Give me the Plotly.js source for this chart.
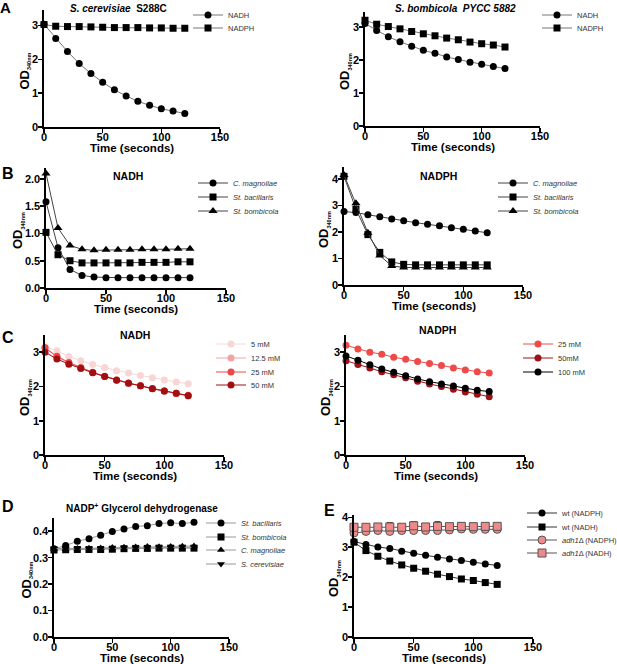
<!DOCTYPE html>
<html>
<head>
<meta charset="utf-8">
<script src="https://cdn.plot.ly/plotly-3.0.1.min.js"></script>
<style>
  html, body { margin: 0; padding: 0; background: #fff; }
  #fig { width: 617px; height: 664px; }
</style>
</head>
<body>
<div id="fig"></div>
<script>
const W = 617, H = 664;

// time points (s)
const time = [0, 10, 20, 30, 40, 50, 60, 70, 80, 90, 100, 110, 120];

// A - S. cerevisiae S288C
const aScNadh  = [3.04, 2.62, 2.23, 1.88, 1.58, 1.32, 1.10, 0.92, 0.76, 0.64, 0.54, 0.47, 0.40];
const aScNadph = [3.03, 2.98, 2.97, 2.97, 2.96, 2.95, 2.94, 2.94, 2.94, 2.93, 2.93, 2.92, 2.92];
// A - S. bombicola PYCC 5882
const aSbNadh  = [3.10, 2.89, 2.70, 2.55, 2.41, 2.29, 2.20, 2.09, 2.01, 1.93, 1.87, 1.80, 1.74];
const aSbNadph = [3.20, 3.08, 3.01, 2.94, 2.86, 2.79, 2.73, 2.66, 2.61, 2.54, 2.49, 2.45, 2.39];

// B - NADH
const bNadhMag = [1.58, 0.74, 0.34, 0.23, 0.20, 0.19, 0.19, 0.19, 0.19, 0.19, 0.19, 0.19, 0.19];
const bNadhBac = [1.02, 0.61, 0.50, 0.46, 0.46, 0.46, 0.46, 0.46, 0.47, 0.47, 0.47, 0.48, 0.48];
const bNadhBom = [2.10, 1.10, 0.78, 0.71, 0.69, 0.70, 0.70, 0.70, 0.71, 0.71, 0.71, 0.72, 0.72];
// B - NADPH
const bNadphMag = [2.77, 2.73, 2.65, 2.57, 2.49, 2.42, 2.35, 2.29, 2.23, 2.16, 2.10, 2.04, 1.97];
const bNadphBac = [4.10, 2.86, 1.90, 1.23, 0.87, 0.78, 0.76, 0.76, 0.76, 0.76, 0.76, 0.76, 0.76];
const bNadphBom = [4.15, 3.08, 1.97, 1.11, 0.72, 0.66, 0.66, 0.66, 0.66, 0.66, 0.66, 0.66, 0.66];

// C - NADH concentrations
const cNadh5   = [3.16, 3.04, 2.87, 2.75, 2.64, 2.55, 2.46, 2.39, 2.32, 2.25, 2.19, 2.13, 2.08];
const cNadh12  = [3.12, 2.86, 2.68, 2.54, 2.40, 2.29, 2.19, 2.09, 2.01, 1.93, 1.86, 1.79, 1.72];
const cNadh25  = [3.13, 2.88, 2.70, 2.55, 2.41, 2.30, 2.19, 2.10, 2.02, 1.94, 1.87, 1.80, 1.74];
const cNadh50  = [3.00, 2.80, 2.65, 2.52, 2.40, 2.29, 2.18, 2.09, 2.02, 1.93, 1.87, 1.80, 1.73];
// C - NADPH concentrations
const cNadph25  = [3.20, 3.09, 3.00, 2.94, 2.85, 2.79, 2.73, 2.67, 2.61, 2.54, 2.48, 2.43, 2.39];
const cNadph50  = [2.75, 2.64, 2.54, 2.43, 2.34, 2.25, 2.15, 2.07, 2.00, 1.92, 1.84, 1.77, 1.70];
const cNadph100 = [2.89, 2.76, 2.63, 2.51, 2.41, 2.31, 2.22, 2.14, 2.07, 2.01, 1.95, 1.89, 1.85];

// D - NADP+ glycerol dehydrogenase
const dBac = [0.334, 0.346, 0.362, 0.372, 0.385, 0.399, 0.408, 0.418, 0.421, 0.429, 0.432, 0.429, 0.434];
const dBom = [0.329, 0.330, 0.331, 0.331, 0.331, 0.332, 0.334, 0.335, 0.335, 0.336, 0.336, 0.336, 0.336];
const dMag = [0.333, 0.334, 0.335, 0.336, 0.337, 0.338, 0.339, 0.340, 0.342, 0.341, 0.342, 0.343, 0.344];
const dCer = [0.335, 0.333, 0.333, 0.333, 0.334, 0.335, 0.336, 0.337, 0.337, 0.338, 0.338, 0.339, 0.339];

// E - wt vs adh1 deletion
const eWtNadph  = [3.19, 3.09, 3.01, 2.96, 2.87, 2.80, 2.73, 2.67, 2.61, 2.56, 2.50, 2.44, 2.39];
const eWtNadh   = [3.17, 2.89, 2.70, 2.54, 2.41, 2.30, 2.20, 2.10, 2.02, 1.94, 1.89, 1.82, 1.76];
const eAdhNadph = [3.48, 3.53, 3.56, 3.53, 3.56, 3.56, 3.56, 3.56, 3.58, 3.61, 3.60, 3.60, 3.60];
const eAdhNadh  = [3.67, 3.67, 3.68, 3.68, 3.67, 3.72, 3.68, 3.70, 3.69, 3.70, 3.69, 3.70, 3.70];
const eAdhNadhErr = [0.03, 0.04, 0.08, 0.15, 0.05, 0.14, 0.06, 0.16, 0.08, 0.08, 0.05, 0.05, 0.05];

const FONT = 'Liberation Sans, Arial, sans-serif';

// panel boxes in pixels
const panels = [
  { x0: 44,  x1: 220, yt: 10,  yb: 127, ymax: 3.46, dtick: 1 },
  { x0: 365, x1: 540, yt: 12,  yb: 126, ymax: 3.45, dtick: 1 },
  { x0: 46,  x1: 226, yt: 168, yb: 288, ymax: 2.2,  dtick: 0.5, fmt: '.1f' },
  { x0: 344, x1: 523, yt: 167, yb: 285, ymax: 4.45, dtick: 1 },
  { x0: 45,  x1: 224, yt: 335, yb: 455, ymax: 3.5,  dtick: 1 },
  { x0: 346, x1: 525, yt: 335, yb: 455, ymax: 3.5,  dtick: 1 },
  { x0: 54,  x1: 229, yt: 518, yb: 637, ymax: 0.45, dtick: 0.1, fmt: '.1f' },
  { x0: 354, x1: 533, yt: 515, yb: 637, ymax: 4.08, dtick: 1 },
];

const layout = {
  width: W, height: H,
  margin: { l: 0, r: 0, t: 0, b: 0, autoexpand: false },
  paper_bgcolor: '#fff', plot_bgcolor: 'rgba(0,0,0,0)',
  font: { family: FONT, color: '#000' },
  showlegend: true,
  annotations: [],
};

function note(text, x, y, size, extra) {
  layout.annotations.push(Object.assign({
    text: text, x: x / W, y: 1 - y / H, xref: 'paper', yref: 'paper',
    showarrow: false, xanchor: 'center', yanchor: 'middle',
    font: { family: FONT, size: size, color: '#000', weight: 'bold' },
  }, extra || {}));
}

panels.forEach((p, i) => {
  const n = i + 1, sfx = n === 1 ? '' : n;
  layout['xaxis' + sfx] = {
    domain: [p.x0 / W, p.x1 / W], anchor: 'y' + sfx,
    range: [0, 150], tickvals: [0, 50, 100, 150],
    showline: true, linecolor: '#000', linewidth: 1.6,
    ticks: 'outside', ticklen: 4, tickwidth: 1.6, tickcolor: '#000',
    ticklabelstandoff: -5,
    showgrid: false, zeroline: false, fixedrange: true,
    tickfont: { family: FONT, size: 11, weight: 'bold' },
  };
  layout['yaxis' + sfx] = {
    domain: [1 - p.yb / H, 1 - p.yt / H], anchor: 'x' + sfx,
    range: [0, p.ymax], dtick: p.dtick, tick0: 0, tickformat: p.fmt || '',
    showline: true, linecolor: '#000', linewidth: 1.6,
    ticks: 'outside', ticklen: 4, tickwidth: 1.6, tickcolor: '#000',
    ticklabelstandoff: -2,
    showgrid: false, zeroline: false, fixedrange: true,
    tickfont: { family: FONT, size: 11, weight: 'bold' },
  };
  // axis titles
  note('Time (seconds)', (p.x0 + p.x1) / 2, p.yb + 21, 11.5);
  const yOff = p.fmt ? 28 : 20;
  note("OD<sub><span style='font-size:5.5px'>340nm</span></sub>", p.x0 - yOff, (p.yt + p.yb) / 2 + 3, 13,
    { textangle: -90 });
});

// one legend entry per trace; (sx, sy) = symbol centre in px, text starts ~20px right of it
let legN = 0;
function legendAt(sx, sy) {
  legN += 1;
  const id = legN === 1 ? 'legend' : 'legend' + legN;
  layout[id] = {
    x: (sx - 20) / W, y: 1 - sy / H, xanchor: 'left', yanchor: 'middle',
    bgcolor: 'rgba(0,0,0,0)', borderwidth: 0, itemwidth: 30,
    font: { family: FONT, size: 7.5, color: '#333' },
  };
  return id;
}

const traces = [];
function add(panel, y, name, sym, opts) {
  const o = opts || {};
  const sfx = panel === 1 ? '' : panel;
  traces.push({
    x: time, y: y, name: name, type: 'scatter', mode: 'lines+markers',
    xaxis: 'x' + sfx, yaxis: 'y' + sfx,
    legend: legendAt(o.lx, o.ly),
    cliponaxis: false,
    line: { color: o.lineColor || '#777', width: 1 },
    marker: {
      symbol: sym, size: o.size || 7, color: o.color || '#000',
      line: { color: o.outline || o.color || '#000', width: o.outline ? 1 : 0 },
    },
    error_y: o.err ? { type: 'data', symmetric: false, array: o.err, arrayminus: o.err.map(() => 0),
      color: '#444', thickness: 1, width: 3 } : undefined,
  });
}

// A
add(1, aScNadh,  'NADH',  'circle', { lx: 208, ly: 15 });
add(1, aScNadph, 'NADPH', 'square', { lx: 208, ly: 28 });
add(2, aSbNadh,  'NADH',  'circle', { lx: 557, ly: 15 });
add(2, aSbNadph, 'NADPH', 'square', { lx: 557, ly: 28 });
// B
add(3, bNadhMag, '<i>C. magnoliae</i>',  'circle',       { lx: 213, ly: 183, lineColor: '#444' });
add(3, bNadhBac, '<i>St. bacillaris</i>', 'square',      { lx: 213, ly: 197, lineColor: '#444' });
add(3, bNadhBom, '<i>St. bombicola</i>',  'triangle-up', { lx: 213, ly: 211, lineColor: '#444', size: 8 });
add(4, bNadphMag, '<i>C. magnoliae</i>',  'circle',       { lx: 513, ly: 183, lineColor: '#444' });
add(4, bNadphBac, '<i>St. bacillaris</i>', 'square',      { lx: 513, ly: 197, lineColor: '#444' });
add(4, bNadphBom, '<i>St. bombicola</i>',  'triangle-up', { lx: 513, ly: 211, lineColor: '#444', size: 8 });
// C
add(5, cNadh5,  '5 mM',    'circle', { lx: 231, ly: 344, color: '#f8d6d6', lineColor: '#f8d6d6' });
add(5, cNadh12, '12.5 mM', 'circle', { lx: 231, ly: 358, color: '#f3a3a3', lineColor: '#f3a3a3' });
add(5, cNadh25, '25 mM',   'circle', { lx: 231, ly: 372, color: '#ec4646', lineColor: '#ec4646' });
add(5, cNadh50, '50 mM',   'circle', { lx: 231, ly: 385, color: '#a10f12', lineColor: '#a10f12' });
add(6, cNadph25,  '25 mM',  'circle', { lx: 538, ly: 344, color: '#ee4a4a', lineColor: '#ee4a4a' });
add(6, cNadph50,  '50mM',   'circle', { lx: 538, ly: 358, color: '#9c1216', lineColor: '#9c1216' });
add(6, cNadph100, '100 mM', 'circle', { lx: 538, ly: 372, color: '#000', lineColor: '#000' });
// D
add(7, dBac, '<i>St. bacillaris</i>', 'circle',        { lx: 221, ly: 523, lineColor: '#999' });
add(7, dBom, '<i>St. bombicola</i>',  'square',        { lx: 221, ly: 537, lineColor: '#999' });
add(7, dMag, '<i>C. magnoliae</i>',   'triangle-up',   { lx: 221, ly: 550, lineColor: '#999', size: 7 });
add(7, dCer, '<i>S. cerevisiae</i>',  'triangle-down', { lx: 221, ly: 564, lineColor: '#999', size: 7 });
// E
add(8, eWtNadph,  'wt (NADPH)',            'circle', { lx: 542, ly: 513, lineColor: '#333' });
add(8, eWtNadh,   'wt (NADH)',             'square', { lx: 542, ly: 527, lineColor: '#333' });
add(8, eAdhNadph, '<i>adh1</i>Δ (NADPH)', 'circle', { lx: 542, ly: 540, lineColor: '#555', color: '#f08a8a', outline: '#555', size: 8 });
add(8, eAdhNadh,  '<i>adh1</i>Δ (NADH)',  'square', { lx: 542, ly: 553, lineColor: '#555', color: '#f08a8a', outline: '#555', size: 8, err: eAdhNadhErr });

// panel titles and letters
note('<i>S. cerevisiae</i>  S288C', 118, 9, 10);
note('<i>S. bombicola  PYCC 5882</i>', 455, 9, 10);
note('NADH', 128, 176, 10.5);
note('NADPH', 438, 176, 10.5);
note('NADH', 135, 335, 10.5);
note('NADPH', 437, 330, 10.5);
note('NADP<sup>+</sup> Glycerol dehydrogenase', 142, 508, 10);
note('A', 5, 7, 15);
note('B', 8, 173, 16);
note('C', 8, 337, 16);
note('D', 8, 506, 16);
note('E', 330, 510, 16);

Plotly.newPlot('fig', traces, layout, { staticPlot: true, displayModeBar: false });
</script>
</body>
</html>
